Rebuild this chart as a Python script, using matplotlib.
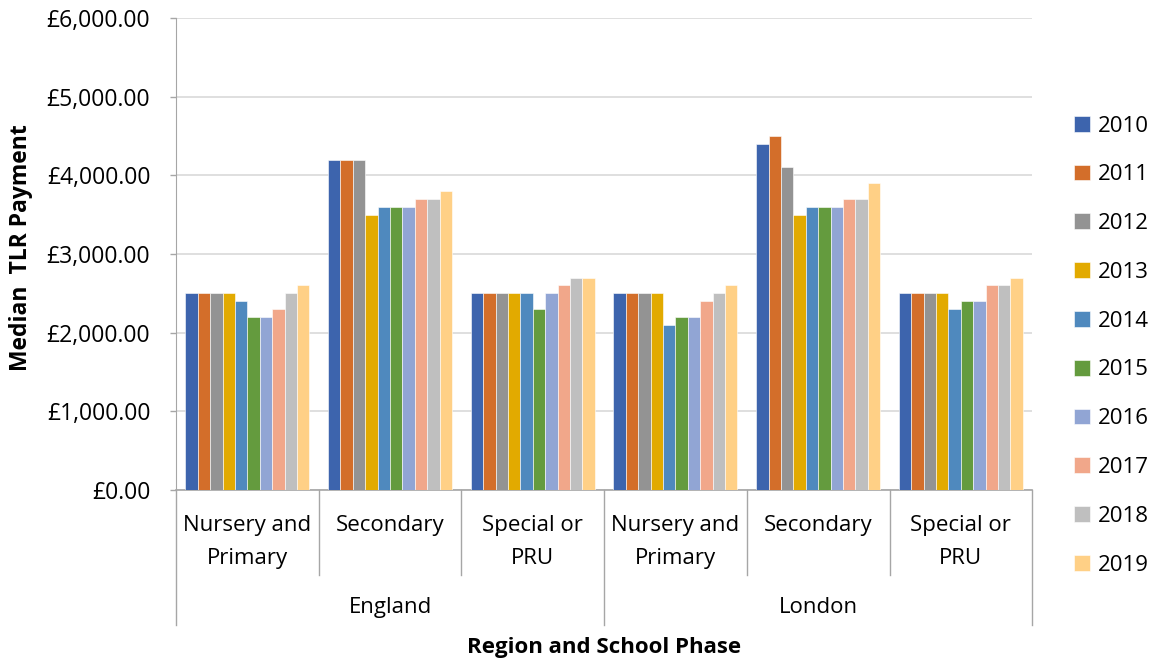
import numpy as np
import matplotlib
matplotlib.use("Agg")
import matplotlib.pyplot as plt
import matplotlib.transforms as mtransforms

plt.rcParams['font.family'] = ['Open Sans', 'DejaVu Sans']

years = ['2010', '2011', '2012', '2013', '2014', '2015', '2016', '2017', '2018', '2019']
phases = ['Nursery and\nPrimary', 'Secondary', 'Special or\nPRU',
          'Nursery and\nPrimary', 'Secondary', 'Special or\nPRU']
regions = ['England', 'London']

# rows = phase groups, columns = years
eng_nursery = [2500, 2500, 2500, 2500, 2400, 2200, 2200, 2300, 2500, 2600]
eng_secondary = [4200, 4200, 4200, 3500, 3600, 3600, 3600, 3700, 3700, 3800]
eng_special = [2500, 2500, 2500, 2500, 2500, 2300, 2500, 2600, 2700, 2700]
lon_nursery = [2500, 2500, 2500, 2500, 2100, 2200, 2200, 2400, 2500, 2600]
lon_secondary = [4400, 4500, 4100, 3500, 3600, 3600, 3600, 3700, 3700, 3900]
lon_special = [2500, 2500, 2500, 2500, 2300, 2400, 2400, 2600, 2600, 2700]

colors = ['#3D64AD', '#D36E2A', '#939393', '#E2AA00', '#4F89BE',
          '#649B3E', '#91A5D4', '#F1A78A', '#BFBFBF', '#FFD086']

data = np.array([eng_nursery, eng_secondary, eng_special,
                 lon_nursery, lon_secondary, lon_special])

fig = plt.figure(figsize=(11.59, 6.66), dpi=100)
ax = fig.add_axes([0.1519, 0.2643, 0.7387, 0.7087])

n_groups = data.shape[0]
n_years = data.shape[1]
x = np.arange(n_groups)
w = 0.0869
for i in range(n_years):
    ax.bar(x - (n_years - 1) / 2 * w + i * w, data[:, i], width=w,
           color=colors[i], edgecolor='white', linewidth=0.4, label=years[i], zorder=3)

ax.set_xlim(-0.5, n_groups - 0.5)
ax.set_ylim(0, 6000)
ax.set_yticks(np.arange(0, 6001, 1000))
ax.set_yticklabels(['£{:,.2f}'.format(v) for v in np.arange(0, 6001, 1000)], fontsize=16.5)
ax.yaxis.grid(True, color='#D9D9D9', linewidth=1.2, zorder=0)
ax.tick_params(axis='y', length=4.5, color='#A6A6A6', width=1.0, pad=14)
ax.set_xticks([])

for s in ['top', 'right']:
    ax.spines[s].set_visible(False)
ax.spines['left'].set_color('#A6A6A6')
ax.spines['bottom'].set_color('#A6A6A6')
ax.spines['bottom'].set_linewidth(1.2)

trans = mtransforms.blended_transform_factory(ax.transData, ax.transAxes)
# phase / region separators below the axis
for b in np.arange(-0.5, n_groups, 1.0):
    bottom = -0.286 if b in (-0.5, 2.5, 5.5) else -0.18
    ax.plot([b, b], [0, bottom], transform=trans, color='#A6A6A6',
            linewidth=1.0, clip_on=False)
for xi, lab in zip(x, phases):
    for j, line in enumerate(lab.split('\n')):
        ax.text(xi, -0.075 - 0.07 * j, line, transform=trans, ha='center',
                va='center', fontsize=16)
for k, reg in enumerate(regions):
    ax.text(1 + 3 * k, -0.248, reg, transform=trans, ha='center', va='center', fontsize=16)

ax.text(2.5, -0.333, 'Region and School Phase', transform=trans, ha='center',
        va='center', fontsize=16, fontweight='bold')
fig.text(0.018, 0.628, 'Median  TLR Payment', rotation=90, ha='center', va='center',
         fontsize=16.5, fontweight='bold')

leg = ax.legend(loc='center left', bbox_to_anchor=(1.026, 0.306), frameon=False,
                fontsize=16, handlelength=0.72, handleheight=0.72,
                labelspacing=1.25, handletextpad=0.35)

fig.savefig('out.png', dpi=100)
